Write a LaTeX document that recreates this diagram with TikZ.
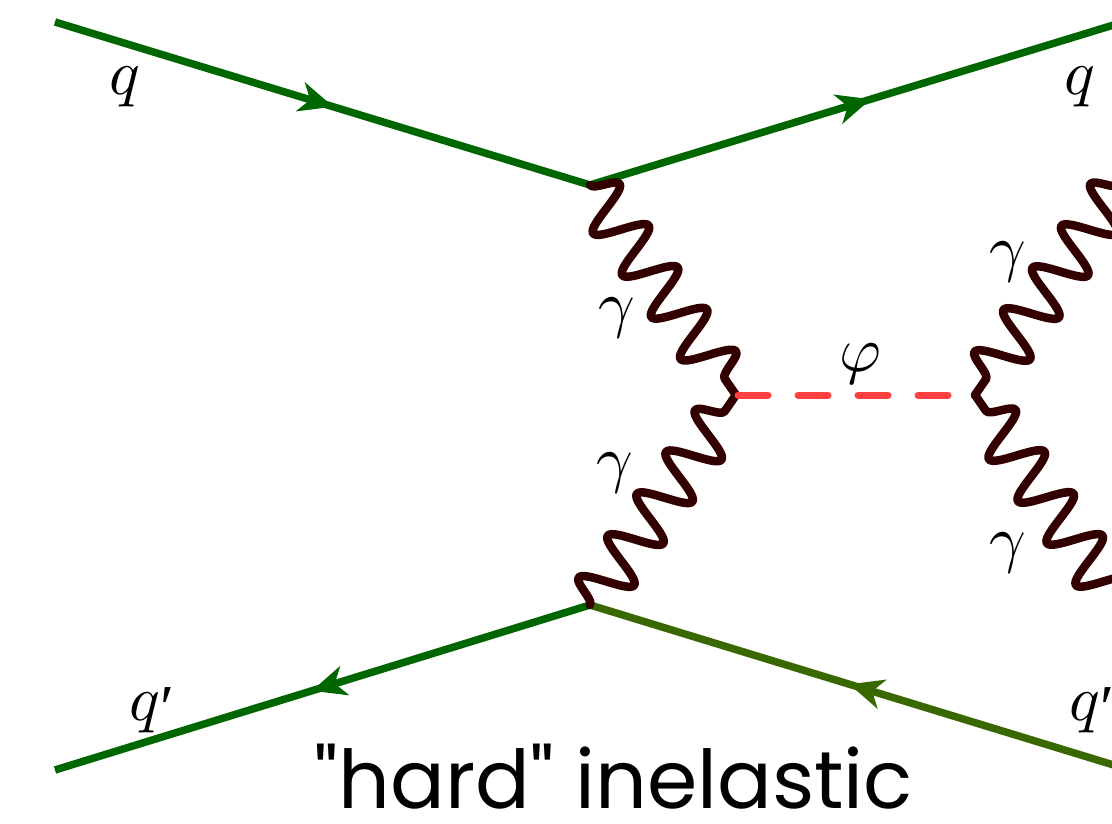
\documentclass[tikz,border=0pt]{standalone}
\usepackage{fontspec}
\usepackage{unicode-math}
\newfontfamily\capfont{Poppins}
\newfontfamily\libfont{Liberation Serif}
\usetikzlibrary{decorations.pathmorphing,decorations.markings,arrows.meta}
\definecolor{qgreen}{RGB}{0,102,0}
\definecolor{qolive}{RGB}{58,104,0}
\definecolor{phot}{RGB}{51,0,0}
\definecolor{higgs}{RGB}{255,64,64}
\newcommand{\myqpr}{$q$\kern1pt\raisebox{-9pt}{\libfont\char"2032}}
\begin{document}
\begin{tikzpicture}[x=1pt,y=-1pt,
  fermion/.style={line width=7.5pt, postaction={decorate},
    decoration={markings, mark=at position 0.52 with {\arrow{Stealth[length=34pt,width=30pt,inset=10pt]}}}},
  photon/.style={draw=phot, line width=8.5pt, line cap=round, line join=round, decorate,
    decoration={snake, segment length=51pt, amplitude=25pt}},
  photonm/.style={photon, decoration={mirror}},
  scalar/.style={draw=higgs, line width=7pt, line cap=round, dash pattern=on 30pt off 30pt, dash phase=-2pt},
  lbl/.style={font=\fontsize{64}{64}\selectfont, inner sep=0pt}]
\useasboundingbox (0,0) rectangle (1112,824);
\clip (0,0) rectangle (1112,824);
% vertices
\coordinate (a1) at (55,22);
\coordinate (v1) at (590,185);
\coordinate (b1) at (1130,20);
\coordinate (a2) at (55,770);
\coordinate (v2) at (590,605);
\coordinate (b2) at (1130,770);
\coordinate (m1) at (736,395);
\coordinate (m2) at (975,395);
\coordinate (r1) at (1120,185);
\coordinate (r2) at (1120,605);
% quark lines
\draw[fermion, color=qgreen] (a1) -- (v1);
\draw[fermion, color=qgreen] (v1) -- (b1);
\draw[fermion, color=qgreen] (v2) -- (a2);
\draw[fermion, color=qolive] (b2) -- (v2);
% photons
\draw[photon] (v1) -- (m1);
\draw[photon] (v2) -- (m1);
\draw[photonm] (r1) -- (m2);
\draw[photonm] (r2) -- (m2);
% scalar
\draw[scalar] (m1) -- (m2);
% labels
\node[lbl] (lq1) at (125,87) {$q$};
\node[lbl] (lq2) at (1080,87) {$q$};
\node[lbl] (lq3) at (152,710) {\myqpr};
\node[lbl] (lq4) at (1092,710) {\myqpr};
\node[lbl] (g1) at (617,318) {$\gamma$};
\node[lbl] (g2) at (615,473) {$\gamma$};
\node[lbl] (g3) at (1008,262) {$\gamma$};
\node[lbl] (g4) at (1008,553) {$\gamma$};
\node[lbl] (phi) at (860,364) {$\varphi$};
\node[font=\capfont\fontsize{81}{81}\selectfont, anchor=base, inner sep=0pt] (cap) at (614,808) {"hard" inelastic};
\end{tikzpicture}
\end{document}
